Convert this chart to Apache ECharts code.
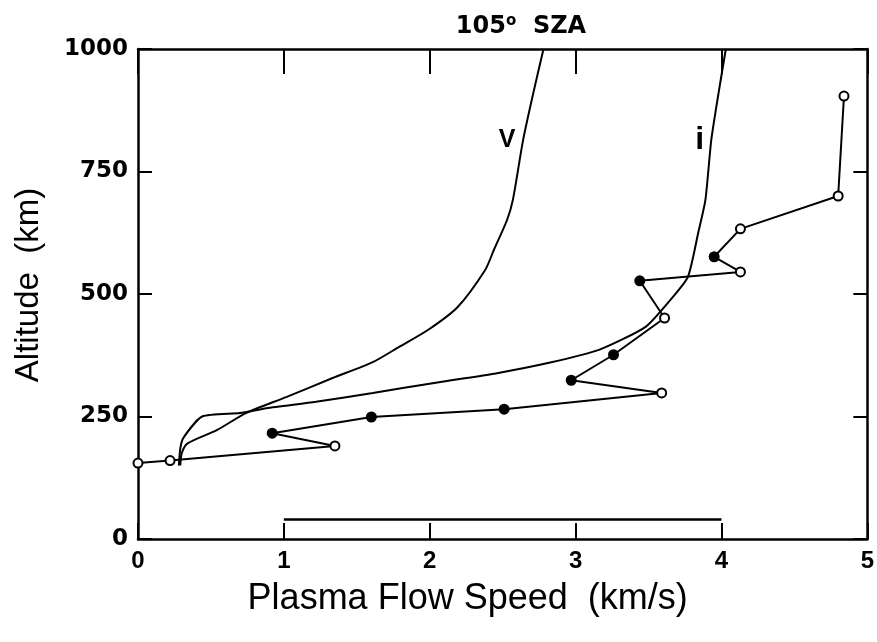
<!DOCTYPE html>
<html>
<head>
<meta charset="utf-8">
<script src="https://cdn.jsdelivr.net/npm/echarts@6/dist/echarts.min.js"></script>
<style>
  html, body { margin: 0; padding: 0; background: #fff; }
  #chart { width: 877px; height: 642px; }
</style>
</head>
<body>
<div id="chart"></div>
<script>
// model curve V
var vSpeed = [0.29, 0.30, 0.34, 0.54, 0.74, 1.02, 1.33, 1.61, 1.79, 1.99, 2.19, 2.38, 2.44, 2.53, 2.57, 2.64, 2.71, 2.78];
var vAlt   = [150, 175, 195, 222, 257, 290, 328, 361, 392, 427, 473, 549, 590, 651, 692, 814, 910, 1000];
// model curve i
var iSpeed = [0.28, 0.29, 0.31, 0.44, 0.70, 0.88, 1.22, 1.61, 2.02, 2.47, 2.81, 3.16, 3.48, 3.65, 3.77, 3.84, 3.89, 3.93, 3.98, 4.03];
var iAlt   = [150, 185, 206, 250, 257, 267, 280, 298, 318, 339, 359, 386, 433, 488, 535, 624, 692, 814, 910, 1000];
// measured points
var obsSpeed  = [0.00, 0.22, 1.35, 0.92, 1.60, 2.51, 3.59, 2.97, 3.26, 3.61, 3.44, 4.13, 3.95, 4.13, 4.80, 4.84];
var obsAlt    = [155, 160, 190, 216, 249, 265, 298, 324, 376, 451, 527, 545, 576, 633, 700, 904];
var obsFilled = [false, false, false, true, true, true, false, true, true, false, true, false, true, false, false, false];
// horizontal bar
var barSpeed = [1, 4];
var barAlt = [40, 40];
// curve labels
var curveLabels = ['V', 'i'];
var curveLabelSpeed = [2.53, 3.85];
var curveLabelAlt = [814, 814];
var curveLabelSize = [25, 32];

var xTicks = [0, 1, 2, 3, 4, 5];
var yTicks = [0, 250, 500, 750, 1000];

function pairs(xs, ys) {
  return xs.map(function (x, k) { return [x, ys[k]]; });
}

var chart = echarts.init(document.getElementById('chart'));

var obsData = obsSpeed.map(function (x, k) {
  return {
    value: [x, obsAlt[k]],
    itemStyle: { color: obsFilled[k] ? '#000' : '#fff', borderColor: '#000', borderWidth: 2 }
  };
});

var lineStyleK = { color: '#000', width: 2 };

var option = {
  backgroundColor: '#fff',
  animation: false,
  title: {
    text: '105{sup|o}  SZA',
    left: 516,
    top: 9,
    textAlign: 'center',
    textStyle: {
      fontFamily: 'DejaVu Sans', fontWeight: 'bold', fontSize: 24, color: '#000',
      rich: { sup: { fontFamily: 'DejaVu Sans', fontWeight: 'bold', fontSize: 15, verticalAlign: 'top', padding: [0, 0, 10, 0] } }
    }
  },
  grid: { left: 138, right: 7, top: 49, bottom: 103 },
  xAxis: [{
    type: 'value', min: 0, max: 5, interval: 1, position: 'bottom',
    name: 'Plasma Flow Speed  (km/s)', nameLocation: 'middle', nameGap: 42,
    nameTextStyle: { fontFamily: 'Liberation Sans', fontSize: 36, color: '#000', padding: [0, 70, 0, 0] },
    axisLine: { onZero: false, lineStyle: { color: '#000', width: 2.5 } },
    axisTick: { inside: true, length: 16, lineStyle: { color: '#000', width: 2 } },
    axisLabel: {
      margin: 10, fontFamily: 'Liberation Sans', fontWeight: 'bold',
      fontSize: 24, color: '#000',
      formatter: function (v) { return xTicks.indexOf(v) >= 0 ? String(v) : ''; }
    },
    splitLine: { show: false }
  }, {
    type: 'value', min: 0, max: 5, interval: 1, position: 'top',
    axisLine: { onZero: false, lineStyle: { color: '#000', width: 2.5 } },
    axisTick: { inside: true, length: 25, lineStyle: { color: '#000', width: 2 } },
    axisLabel: { show: false },
    splitLine: { show: false }
  }],
  yAxis: [{
    type: 'value', min: 0, max: 1000, interval: 250, position: 'left',
    name: 'Altitude  (km)', nameLocation: 'middle', nameGap: 93,
    nameTextStyle: { fontFamily: 'Liberation Sans', fontSize: 33, color: '#000', padding: [0, 0, 0, 18] },
    axisLine: { onZero: false, lineStyle: { color: '#000', width: 2.5 } },
    axisTick: { inside: true, length: 14, lineStyle: { color: '#000', width: 2 } },
    axisLabel: {
      margin: 10, fontFamily: 'DejaVu Sans', fontWeight: 'bold', fontSize: 23, color: '#000',
      formatter: function (v) { return yTicks.indexOf(v) >= 0 ? String(v) : ''; }
    },
    splitLine: { show: false }
  }, {
    type: 'value', min: 0, max: 1000, interval: 250, position: 'right',
    axisLine: { onZero: false, lineStyle: { color: '#000', width: 2.5 } },
    axisTick: { inside: true, length: 14, lineStyle: { color: '#000', width: 2 } },
    axisLabel: { show: false },
    splitLine: { show: false }
  }],
  series: [{
    type: 'line', name: 'V', data: pairs(vSpeed, vAlt), smooth: 0.25,
    showSymbol: false, lineStyle: lineStyleK
  }, {
    type: 'line', name: 'i', data: pairs(iSpeed, iAlt), smooth: 0.2,
    showSymbol: false, lineStyle: lineStyleK
  }, {
    type: 'line', name: 'obs', data: obsData, smooth: false,
    symbol: 'circle', symbolSize: 9, lineStyle: lineStyleK
  }, {
    type: 'line', name: 'bar', data: pairs(barSpeed, barAlt),
    showSymbol: false, lineStyle: { color: '#000', width: 2.5 }
  }, {
    type: 'scatter', name: 'labels', symbolSize: 0,
    itemStyle: { opacity: 1 },
    data: curveLabels.map(function (t, k) {
      return { value: [curveLabelSpeed[k], curveLabelAlt[k]], name: t, label: { fontSize: curveLabelSize[k] } };
    }),
    label: {
      show: true, position: 'inside', formatter: '{b}',
      fontFamily: 'Liberation Sans', fontWeight: 'bold', color: '#000'
    }
  }]
};

chart.setOption(option);
</script>
</body>
</html>
